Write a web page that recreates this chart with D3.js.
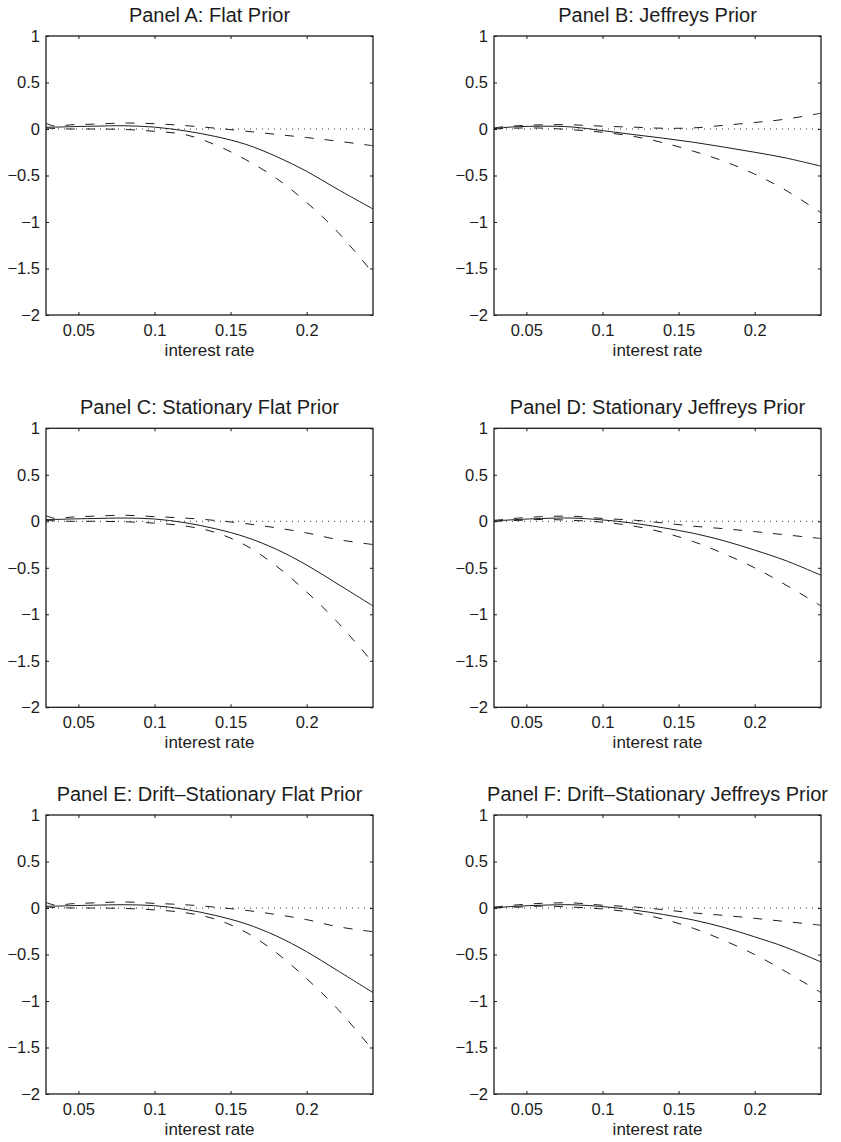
<!DOCTYPE html>
<html>
<head>
<meta charset="utf-8">
<script src="https://cdnjs.cloudflare.com/ajax/libs/d3/7.8.5/d3.min.js"></script>
<style>
  body { margin: 0; background: #fff; }
  svg { display: block; font-family: "Liberation Sans", Arial, Helvetica, sans-serif; }
</style>
</head>
<body>
<svg></svg>
<script>
// interest rates the curves were read at
const rates = [0.0287, 0.035, 0.045, 0.06, 0.08, 0.1, 0.12, 0.14, 0.16, 0.18, 0.2, 0.22, 0.2436];

const titles = [
  "Panel A: Flat Prior",
  "Panel B: Jeffreys Prior",
  "Panel C: Stationary Flat Prior",
  "Panel D: Stationary Jeffreys Prior",
  "Panel E: Drift\u2013Stationary Flat Prior",
  "Panel F: Drift\u2013Stationary Jeffreys Prior"
];

const xTicks = [0.05, 0.1, 0.15, 0.2];
const yTicks = [-2, -1.5, -1, -0.5, 0, 0.5, 1];
const xLabel = "interest rate";

// panel A
const upperA = [0.06, 0.03, 0.045, 0.052, 0.064, 0.057, 0.037, 0.009, -0.023, -0.058, -0.092, -0.13, -0.18];
const meanA  = [0.02, 0.02, 0.025, 0.03, 0.035, 0.02, -0.02, -0.08, -0.165, -0.295, -0.455, -0.645, -0.86];
const lowerA = [0.01, 0.005, 0.0, 0.0, -0.005, -0.025, -0.06, -0.17, -0.33, -0.53, -0.79, -1.1, -1.55];

// panel B
const upperB = [0.01, 0.025, 0.035, 0.045, 0.045, 0.03, 0.02, 0.008, 0.012, 0.04, 0.07, 0.105, 0.17];
const meanB  = [0.005, 0.015, 0.025, 0.03, 0.022, -0.017, -0.059, -0.099, -0.143, -0.195, -0.25, -0.31, -0.4];
const lowerB = [0.0, 0.005, 0.01, 0.01, -0.008, -0.035, -0.078, -0.148, -0.24, -0.348, -0.485, -0.655, -0.9];

// panel C
const upperC = [0.06, 0.03, 0.045, 0.055, 0.065, 0.05, 0.035, 0.009, -0.025, -0.07, -0.125, -0.195, -0.25];
const meanC  = [0.02, 0.02, 0.025, 0.03, 0.035, 0.025, -0.015, -0.08, -0.17, -0.3, -0.47, -0.67, -0.91];
const lowerC = [0.01, 0.005, 0.0, 0.0, -0.005, -0.02, -0.05, -0.12, -0.26, -0.48, -0.76, -1.08, -1.52];

// panel D
const upperD = [0.01, 0.02, 0.035, 0.05, 0.055, 0.03, 0.013, -0.018, -0.053, -0.08, -0.111, -0.145, -0.185];
const meanD  = [0.0, 0.01, 0.02, 0.03, 0.035, 0.015, -0.02, -0.07, -0.13, -0.21, -0.31, -0.42, -0.58];
const lowerD = [0.0, 0.005, 0.01, 0.02, 0.01, -0.01, -0.05, -0.12, -0.22, -0.35, -0.5, -0.68, -0.91];

// panel E
const upperE = [0.06, 0.03, 0.045, 0.055, 0.065, 0.05, 0.035, 0.009, -0.025, -0.07, -0.125, -0.2, -0.255];
const meanE  = [0.02, 0.02, 0.025, 0.03, 0.035, 0.025, -0.015, -0.08, -0.17, -0.3, -0.47, -0.67, -0.91];
const lowerE = [0.01, 0.005, 0.0, 0.0, -0.005, -0.02, -0.05, -0.12, -0.26, -0.48, -0.76, -1.08, -1.53];

// panel F
const upperF = [0.01, 0.02, 0.035, 0.05, 0.055, 0.03, 0.013, -0.018, -0.053, -0.08, -0.111, -0.145, -0.185];
const meanF  = [0.0, 0.01, 0.02, 0.03, 0.035, 0.015, -0.02, -0.07, -0.13, -0.21, -0.31, -0.42, -0.58];
const lowerF = [0.0, 0.005, 0.01, 0.02, 0.01, -0.01, -0.05, -0.12, -0.22, -0.35, -0.5, -0.68, -0.91];

const panels = [
  { title: titles[0], upper: upperA, mean: meanA, lower: lowerA },
  { title: titles[1], upper: upperB, mean: meanB, lower: lowerB },
  { title: titles[2], upper: upperC, mean: meanC, lower: lowerC },
  { title: titles[3], upper: upperD, mean: meanD, lower: lowerD },
  { title: titles[4], upper: upperE, mean: meanE, lower: lowerE },
  { title: titles[5], upper: upperF, mean: meanF, lower: lowerF }
];

let width = 841;
let height = 1142;
let colLeft = [46, 494];
let rowTop = [36, 428.3, 815];
let plotW = 327;
let plotH = 279;
let ink = "#1c1c1c";

let svg = d3.select("svg")
            .attr("width", width)
            .attr("height", height);

svg.append("rect")
   .attr("width", width)
   .attr("height", height)
   .attr("fill", "#fff");

let xScale = d3.scaleLinear()
               .domain([rates[0], rates[rates.length - 1]])
               .range([0, plotW]);

let yScale = d3.scaleLinear()
               .domain([-2, 1])
               .range([plotH, 0]);

let fmt = d => d3.format("")(d);

panels.forEach((p, i) => drawPanel(p, colLeft[i % 2], rowTop[Math.floor(i / 2)]));

function drawPanel(p, left, top) {
  let g = svg.append("g")
             .attr("transform", `translate(${left},${top})`);

  // zero reference line
  g.append("line")
   .attr("x1", xScale.range()[0])
   .attr("x2", xScale.range()[1])
   .attr("y1", yScale(0))
   .attr("y2", yScale(0))
   .attr("stroke", "#333")
   .attr("stroke-width", 1)
   .attr("stroke-dasharray", "1,5");

  let line = d3.line()
               .x((d, j) => xScale(rates[j]))
               .y(d => yScale(d))
               .curve(d3.curveCatmullRom.alpha(0.5));

  // bands first, then the mean on top
  [p.upper, p.lower].forEach(arr => {
    g.append("path")
     .attr("d", line(arr))
     .attr("fill", "none")
     .attr("stroke", ink)
     .attr("stroke-width", 1)
     .attr("stroke-dasharray", "9,11");
  });

  g.append("path")
   .attr("d", line(p.mean))
   .attr("fill", "none")
   .attr("stroke", ink)
   .attr("stroke-width", 1);

  // axes, ticks point inward like matlab
  let left_ = g.append("g")
               .call(d3.axisLeft(yScale).tickValues(yTicks).tickFormat(fmt)
                       .tickSizeInner(-3).tickSizeOuter(0).tickPadding(6));
  let right_ = g.append("g")
                .attr("transform", `translate(${plotW},0)`)
                .call(d3.axisRight(yScale).tickValues(yTicks).tickFormat("")
                        .tickSizeInner(-3).tickSizeOuter(0));
  let bottom_ = g.append("g")
                 .attr("transform", `translate(0,${plotH})`)
                 .call(d3.axisBottom(xScale).tickValues(xTicks).tickFormat(fmt)
                         .tickSizeInner(-3).tickSizeOuter(0).tickPadding(9));
  let top_ = g.append("g")
              .call(d3.axisTop(xScale).tickValues(xTicks).tickFormat("")
                      .tickSizeInner(-3).tickSizeOuter(0));

  [left_, right_, bottom_, top_].forEach(a => {
    a.select(".domain").remove();
    a.selectAll("line").attr("stroke", ink);
    a.selectAll("text")
     .attr("fill", ink)
     .style("font-size", "16.5px")
     .style("font-family", "'Liberation Sans', Arial, sans-serif");
  });

  // frame
  g.append("rect")
   .attr("width", plotW)
   .attr("height", plotH)
   .attr("fill", "none")
   .attr("stroke", ink)
   .attr("stroke-width", 1.3);

  // title
  g.append("text")
   .attr("x", plotW / 2)
   .attr("y", -14)
   .attr("text-anchor", "middle")
   .attr("fill", ink)
   .style("font-size", "20px")
   .text(p.title);

  // x label
  g.append("text")
   .attr("x", plotW / 2)
   .attr("y", plotH + 41)
   .attr("text-anchor", "middle")
   .attr("fill", ink)
   .style("font-size", "17px")
   .text(xLabel);
}
</script>
</body>
</html>
